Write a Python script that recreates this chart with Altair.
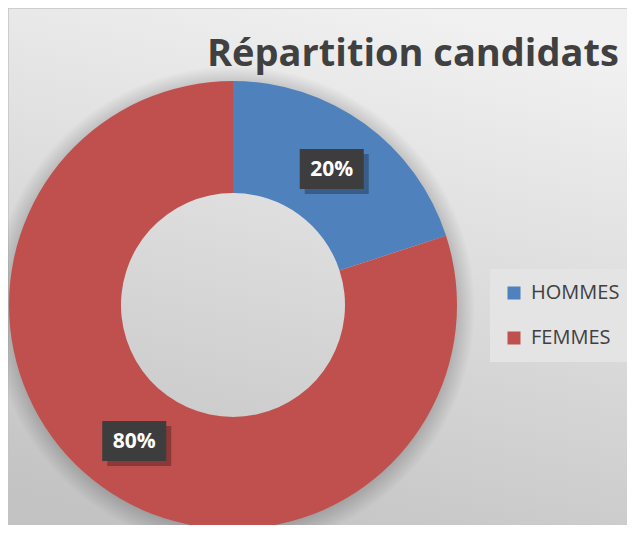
import altair as alt
import pandas as pd

# ---- data ----
categories = ["HOMMES", "FEMMES"]
values = [20, 80]
labels = ["20%", "80%"]
colors = ["#4F81BD", "#C0504D"]
title_text = "Répartition candidats"

df = pd.DataFrame({"cat": categories, "val": values, "label": labels, "order": list(range(len(categories)))})

# ---- layout (styles / sizes) ----
W, H = 619, 517
CX, CY = 225, 297
R_OUT, R_IN = 224, 112
R_LAB = (R_OUT + R_IN) / 2
BOX_W, BOX_H = 64, 40
FONT = "Open Sans"

one = alt.Data(values=[{}])

# background panel with gradient
bg = alt.Chart(one).mark_rect(
    color=alt.LinearGradient(
        gradient="linear",
        stops=[alt.GradientStop(offset=0, color="#f1f1f1"),
               alt.GradientStop(offset=1, color="#c3c3c3")],
        x1=0.65, y1=0, x2=0.35, y2=1),
    stroke="#c4c4c4", strokeWidth=1.5,
).encode(x=alt.value(0), x2=alt.value(W + 20), y=alt.value(0), y2=alt.value(H + 20))

# soft shadow around the donut
shadow = alt.Chart(one).mark_arc(
    theta=0, theta2=6.2832, radius=242, radius2=190,
    color=alt.RadialGradient(
        gradient="radial",
        stops=[alt.GradientStop(offset=0.84, color="rgba(0,0,0,0)"),
               alt.GradientStop(offset=0.91, color="rgba(0,0,0,0.20)"),
               alt.GradientStop(offset=1, color="rgba(0,0,0,0)")],
        x1=0.5, y1=0.5, r1=0, x2=0.5, y2=0.5, r2=0.5),
).encode(x=alt.value(CX), y=alt.value(CY + 3))

arcs = alt.Chart(df).mark_arc(radius=R_OUT, radius2=R_IN).encode(
    theta=alt.Theta("val:Q", stack=True),
    color=alt.Color("cat:N", sort=categories,
                    scale=alt.Scale(domain=categories, range=colors),
                    legend=alt.Legend(
                        title=None, orient="none", legendX=482, legendY=261,
                        padding=14, rowPadding=25, fillColor="#e4e4e4",
                        symbolType="square", symbolSize=169, symbolStrokeWidth=0,
                        symbolOpacity=1,
                        labelFont=FONT, labelFontSize=20, labelColor="#404040",
                        labelOffset=7, labelLimit=200)),
    order=alt.Order("order:Q"),
).encode(x=alt.value(CX), y=alt.value(CY))

# label positions computed from the data (mid-angle of each slice)
lab_base = alt.Chart(df).transform_joinaggregate(
    total="sum(val)"
).transform_window(
    cum="sum(val)", sort=[alt.SortField("order")]
).transform_calculate(
    mid="(datum.cum - datum.val/2) / datum.total * 2 * PI"
).transform_calculate(
    lx=f"{CX} + {R_LAB} * sin(datum.mid)",
    ly=f"{CY} - {R_LAB} * cos(datum.mid)",
).transform_calculate(
    bx1=f"datum.lx - {BOX_W/2}", bx2=f"datum.lx + {BOX_W/2}",
    by1=f"datum.ly - {BOX_H/2}", by2=f"datum.ly + {BOX_H/2}",
    sx1=f"datum.lx - {BOX_W/2} + 5", sx2=f"datum.lx + {BOX_W/2} + 5",
    sy1=f"datum.ly - {BOX_H/2} + 5", sy2=f"datum.ly + {BOX_H/2} + 5",
)

box_shadow = lab_base.mark_rect(color="black", opacity=0.28).encode(
    x=alt.X("sx1:Q", scale=None), x2="sx2:Q",
    y=alt.Y("sy1:Q", scale=None), y2="sy2:Q")

boxes = lab_base.mark_rect(color="#3d3d3d").encode(
    x=alt.X("bx1:Q", scale=None), x2="bx2:Q",
    y=alt.Y("by1:Q", scale=None), y2="by2:Q")

texts = lab_base.mark_text(font=FONT, fontSize=21, fontWeight="bold",
                           color="white", baseline="middle", align="center", dy=1).encode(
    x=alt.X("lx:Q", scale=None), y=alt.Y("ly:Q", scale=None), text="label:N")

title = alt.Chart(one).mark_text(
    text=title_text, font=FONT, fontSize=38, fontWeight="bold",
    color="#404040", align="left", baseline="alphabetic",
).encode(x=alt.value(199), y=alt.value(58))

chart = alt.layer(bg, shadow, arcs, box_shadow, boxes, texts, title).properties(
    width=W, height=H, autosize="none", padding=0, background="white"
).configure_view(stroke=None)

chart.save("out.html", embed_options={"renderer": "svg", "actions": False})
